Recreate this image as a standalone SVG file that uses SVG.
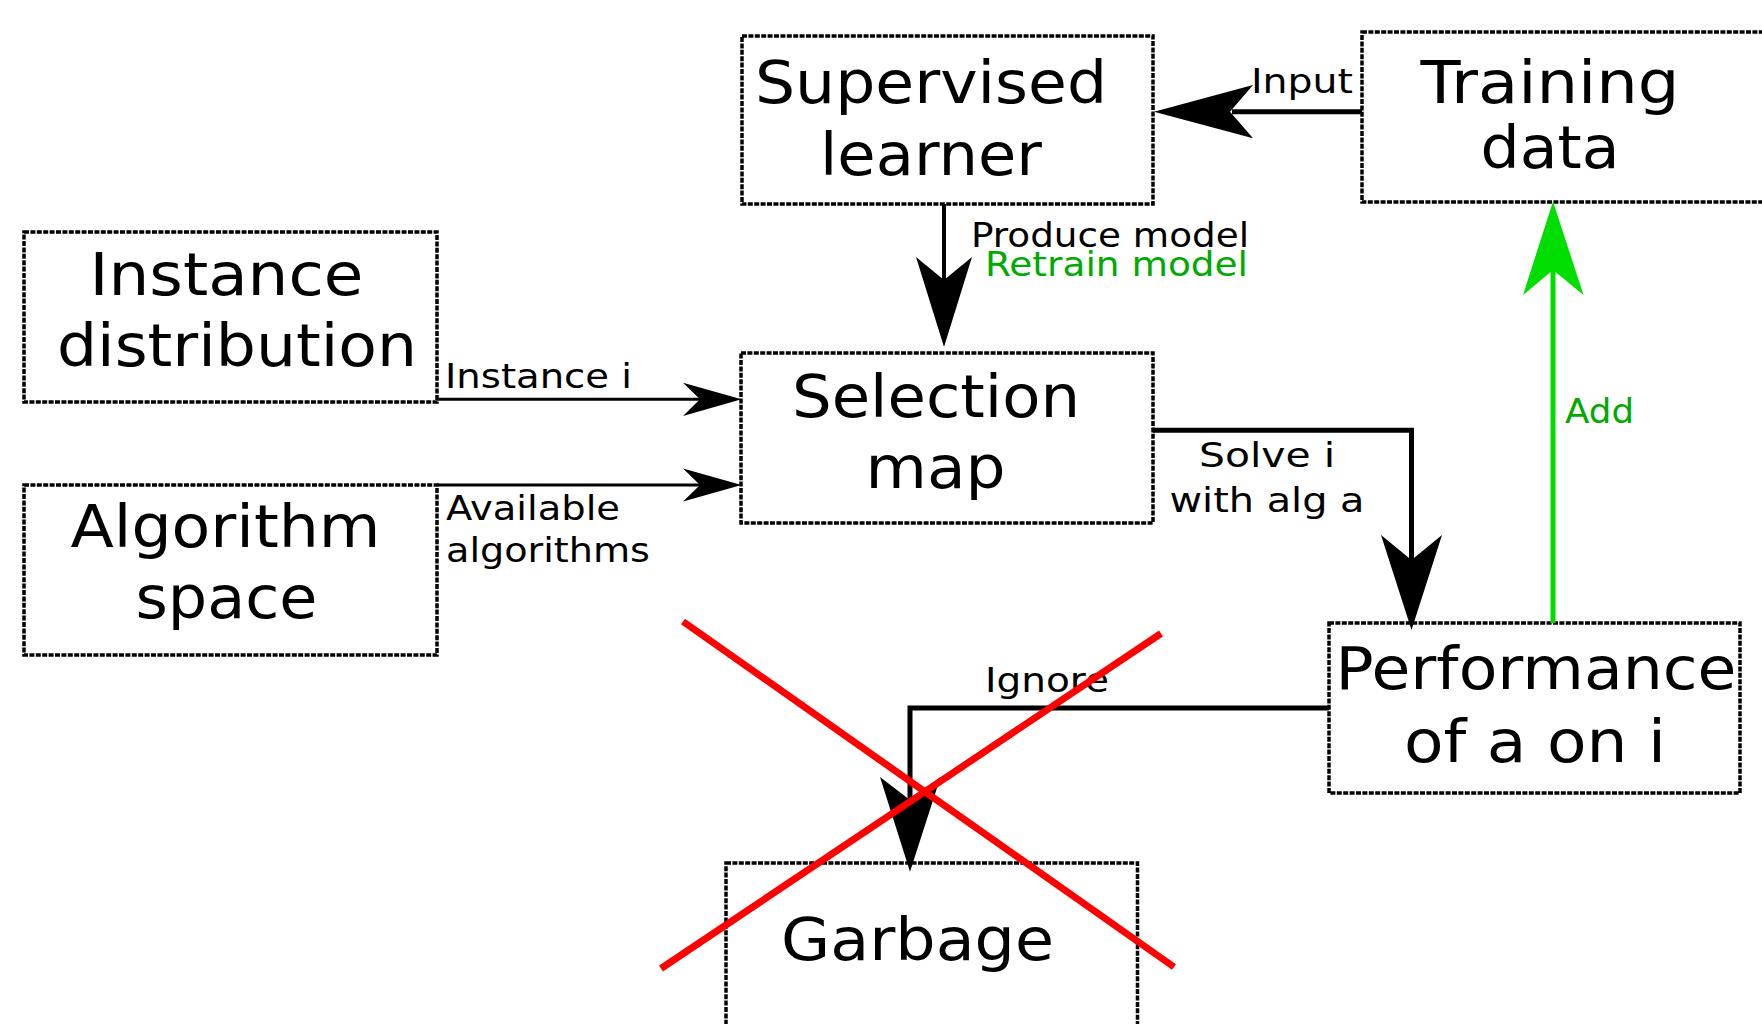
<svg xmlns="http://www.w3.org/2000/svg" width="1762" height="1024" viewBox="0 0 1762 1024">
  <style>
    .box { fill: #ffffff; stroke: #000000; stroke-width: 3.5; stroke-dasharray: 5 1.4; }
    .big { font-family: "DejaVu Sans", "Liberation Sans", sans-serif; font-size: 59px; fill: #000000; text-anchor: middle; }
    .small { font-family: "DejaVu Sans", "Liberation Sans", sans-serif; font-size: 33px; fill: #000000; }
    .green-text { fill: #00aa00; }
    .wire { fill: none; stroke: #000000; stroke-width: 5; }
    .thin { fill: none; stroke: #000000; stroke-width: 3; }
    .head { fill: #000000; stroke: none; }
    .add-wire { fill: none; stroke: #00dd00; stroke-width: 5; }
    .add-head { fill: #00dd00; stroke: none; }
    .cross { stroke: #ff0000; stroke-width: 7; fill: none; }
  </style>
  <rect width="1762" height="1024" fill="#ffffff"/>

  <g id="supervised-learner">
    <rect class="box" x="742" y="36" width="411" height="168"/>
    <text class="big" x="931" y="103" textLength="352" lengthAdjust="spacingAndGlyphs">Supervised</text>
    <text class="big" x="931" y="175" textLength="222" lengthAdjust="spacingAndGlyphs">learner</text>
  </g>

  <g id="training-data">
    <rect class="box" x="1362" y="32" width="410" height="170"/>
    <text class="big" x="1550" y="103" textLength="259" lengthAdjust="spacingAndGlyphs">Training</text>
    <text class="big" x="1550" y="168" textLength="139" lengthAdjust="spacingAndGlyphs">data</text>
  </g>

  <g id="instance-distribution">
    <rect class="box" x="24" y="232" width="413" height="170"/>
    <text class="big" x="226.5" y="295" textLength="274" lengthAdjust="spacingAndGlyphs">Instance</text>
    <text class="big" x="237" y="366" textLength="360" lengthAdjust="spacingAndGlyphs">distribution</text>
  </g>

  <g id="algorithm-space">
    <rect class="box" x="24" y="485" width="413" height="170"/>
    <text class="big" x="225.5" y="547" textLength="310" lengthAdjust="spacingAndGlyphs">Algorithm</text>
    <text class="big" x="226.5" y="618" textLength="182" lengthAdjust="spacingAndGlyphs">space</text>
  </g>

  <g id="selection-map">
    <rect class="box" x="741" y="353" width="412" height="170"/>
    <text class="big" x="936" y="417" textLength="288" lengthAdjust="spacingAndGlyphs">Selection</text>
    <text class="big" x="935.5" y="488" textLength="140" lengthAdjust="spacingAndGlyphs">map</text>
  </g>

  <g id="performance">
    <rect class="box" x="1329" y="623" width="411" height="170"/>
    <text class="big" x="1536" y="689" textLength="401" lengthAdjust="spacingAndGlyphs">Performance</text>
    <text class="big" x="1535" y="762" textLength="262" lengthAdjust="spacingAndGlyphs">of a on i</text>
  </g>

  <g id="garbage">
    <rect class="box" x="726" y="863" width="411.5" height="175"/>
    <text class="big" x="917.5" y="960" textLength="273" lengthAdjust="spacingAndGlyphs">Garbage</text>
  </g>

  <g id="connectors">
    <!-- Training data -> Supervised learner -->
    <line class="wire" x1="1362" y1="111.7" x2="1232" y2="111.7"/>
    <path class="head" d="M1154,111.7 L1253,85 L1230,111.7 L1253,138.3 Z"/>
    <text class="small" x="1251" y="93" textLength="102" lengthAdjust="spacingAndGlyphs">Input</text>

    <!-- Supervised learner -> Selection map -->
    <line class="wire" x1="944" y1="204" x2="944" y2="282" style="stroke-width:4"/>
    <path class="head" d="M944,347 L916,257 L944,280 L972,257 Z"/>
    <text class="small" x="971" y="247" textLength="278" lengthAdjust="spacingAndGlyphs">Produce model</text>
    <text class="small green-text" x="985" y="276" textLength="263" lengthAdjust="spacingAndGlyphs">Retrain model</text>

    <!-- Instance distribution -> Selection map -->
    <line class="thin" x1="437" y1="399.3" x2="702" y2="399.3"/>
    <path class="head" d="M741.5,399.3 L683,382.7 L700,399.3 L683,415.9 Z"/>
    <text class="small" x="445" y="388" textLength="187" lengthAdjust="spacingAndGlyphs">Instance i</text>

    <!-- Algorithm space -> Selection map -->
    <line class="thin" x1="437" y1="485" x2="702" y2="485"/>
    <path class="head" d="M741.5,485 L683,468.4 L700,485 L683,501.6 Z"/>
    <text class="small" x="446" y="520" textLength="174" lengthAdjust="spacingAndGlyphs">Available</text>
    <text class="small" x="446" y="562" textLength="204" lengthAdjust="spacingAndGlyphs">algorithms</text>

    <!-- Selection map -> Performance -->
    <path class="wire" d="M1153,430.3 H1411.5 V563"/>
    <path class="head" d="M1411.5,630 L1381,535 L1411.5,560 L1442,535 Z"/>
    <text class="small" x="1267" y="467" text-anchor="middle" textLength="136" lengthAdjust="spacingAndGlyphs">Solve i</text>
    <text class="small" x="1267" y="512" text-anchor="middle" textLength="195" lengthAdjust="spacingAndGlyphs">with alg a</text>

    <!-- Performance -> Training data -->
    <line class="add-wire" x1="1553" y1="623" x2="1553" y2="267"/>
    <path class="add-head" d="M1553,201.5 L1583.5,295 L1553,270 L1523,295 Z"/>
    <text class="small green-text" x="1565" y="423" textLength="69" lengthAdjust="spacingAndGlyphs">Add</text>

    <!-- Performance -> Garbage -->
    <path class="wire" d="M1329,708 H910 V803"/>
    <path class="head" d="M910,871.7 L880,777 L910,800 L940.5,777 Z"/>
    <text class="small" x="985" y="692" textLength="124" lengthAdjust="spacingAndGlyphs">Ignore</text>
  </g>

  <g id="cross-out">
    <line class="cross" x1="683" y1="621.5" x2="1174" y2="967"/>
    <line class="cross" x1="1161" y1="633.5" x2="661" y2="968.5"/>
  </g>
</svg>
